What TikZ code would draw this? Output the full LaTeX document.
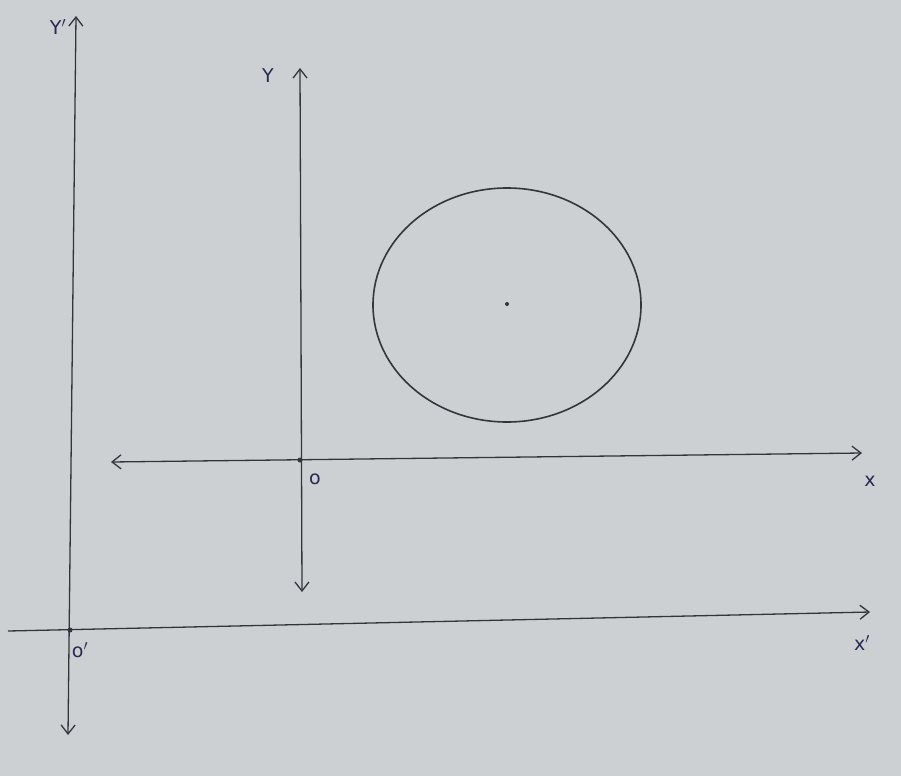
\documentclass[tikz,border=0pt]{standalone}
\usepackage{fontspec}
\setmainfont{DejaVu Sans}
\usetikzlibrary{arrows.meta}
\definecolor{paper}{RGB}{204,208,211}
\definecolor{pen}{RGB}{50,53,58}
\definecolor{ink}{RGB}{38,42,82}
\tikzset{
  axis/.style={draw=pen, line width=1.3pt},
  tip/.style={-{Straight Barb[length=9pt,width=14pt,line width=1.3pt]}},
  bothtips/.style={{Straight Barb[length=9pt,width=14pt,line width=1.3pt]}-{Straight Barb[length=9pt,width=14pt,line width=1.3pt]}},
  lbl/.style={text=ink, font=\fontsize{19}{19}\selectfont, inner sep=0pt},
  dotmark/.style={circle, fill=pen, inner sep=0pt, minimum size=5pt}
}
\begin{document}
\begin{tikzpicture}[x=1pt,y=-1pt]
\fill[paper] (0,0) rectangle (901,776);
\useasboundingbox (0,0) rectangle (901,776);
% primed axes
\coordinate (ypb) at (68,735);
\coordinate (ypt) at (76,16);
\draw[axis,bothtips] (ypb) -- (ypt);
\coordinate (xpl) at (8,631);
\coordinate (xpr) at (870,612);
\draw[axis,tip] (xpl) -- (xpr);
\node[dotmark] (Op) at (70,630) {};
% unprimed axes
\coordinate (yb) at (302,592);
\coordinate (yt) at (300,68);
\draw[axis,bothtips] (yb) -- (yt);
\coordinate (xl) at (111,462);
\coordinate (xr) at (862,453);
\draw[axis,bothtips] (xl) -- (xr);
\node[dotmark] (O) at (300,460) {};
% circle
\draw[axis, line width=1.6pt] (507,305) ellipse [x radius=134, y radius=117];
\node[dotmark, minimum size=4pt] (C) at (507,304) {};
% labels
\node[lbl] (lYp) at (58,27) {Y$'$};
\node[lbl] (lY) at (268,76) {Y};
\node[lbl] (lO) at (315,479) {o};
\node[lbl] (lX) at (870,481) {x};
\node[lbl] (lOp) at (80,650) {o$'$};
\node[lbl] (lXp) at (862,643) {x$'$};
\end{tikzpicture}
\end{document}
